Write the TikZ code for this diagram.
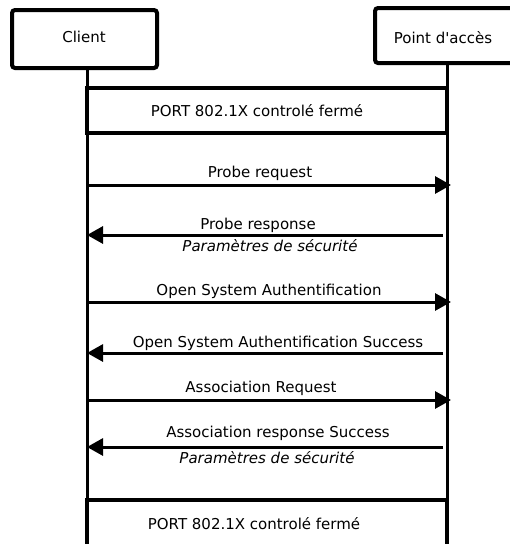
\documentclass[tikz,border=0pt]{standalone}
\usepackage{fontspec}
\setmainfont{DejaVu Sans}
\usetikzlibrary{arrows.meta}
\begin{document}
\begin{tikzpicture}[x=1pt,y=-1pt,
  actor/.style={draw, line width=4pt, rounded corners=3pt, inner sep=0pt},
  life/.style={line width=3pt},
  bar/.style={draw, line width=3.5pt, inner sep=0pt, minimum width=360pt},
  msg/.style={line width=3pt, -{Triangle[length=16pt,width=17pt]}},
  lbl/.style={anchor=base, inner sep=0pt, font=\fontsize{15}{18}\selectfont},
  sec/.style={anchor=base, inner sep=0pt, font=\fontsize{15}{18}\selectfont\itshape}]
\useasboundingbox (0,0) rectangle (510,544);
\clip (0,0) rectangle (510,544);
% actors
\node[actor, minimum width=145pt, minimum height=58pt] (client) at (84.5,39) {};
\node[actor, minimum width=145pt, minimum height=55pt] (ap) at (447.5,35.5) {};
\node[lbl] (clienttxt) at (84,42) {Client};
\node[lbl] (aptxt) at (443,43) {Point d\textquotesingle accès};
% lifelines
\coordinate (c0) at (87,68);
\coordinate (c1) at (87,550);
\coordinate (a0) at (447,63);
\coordinate (a1) at (447,550);
\draw[life] (c0) -- (c1);
\draw[life] (a0) -- (a1);
% port boxes
\node[bar, minimum height=45pt] (port1) at (267,110.5) {};
\node[lbl] (port1txt) at (257,116) {PORT 802.1X controlé fermé};
\node[bar, minimum height=60pt] (port2) at (267,530) {};
\node[lbl] (port2txt) at (254,529) {PORT 802.1X controlé fermé};
% message end points
\coordinate (m1s) at (87,185);  \coordinate (m1e) at (451,185);
\coordinate (m2s) at (443,235); \coordinate (m2e) at (87,235);
\coordinate (m3s) at (87,302);  \coordinate (m3e) at (451,302);
\coordinate (m4s) at (443,353); \coordinate (m4e) at (87,353);
\coordinate (m5s) at (87,400);  \coordinate (m5e) at (451,400);
\coordinate (m6s) at (443,447); \coordinate (m6e) at (87,447);
\draw[msg] (m1s) -- (m1e);
\draw[msg] (m2s) -- (m2e);
\draw[msg] (m3s) -- (m3e);
\draw[msg] (m4s) -- (m4e);
\draw[msg] (m5s) -- (m5e);
\draw[msg] (m6s) -- (m6e);
% labels
\node[lbl] (l1) at (260,177) {Probe request};
\node[lbl] (l2) at (258,229) {Probe response};
\node[sec] (l2b) at (270,251) {Paramètres de sécurité};
\node[lbl] (l3) at (269,295) {Open System Authentification};
\node[lbl] (l4) at (278,347) {Open System Authentification Success};
\node[lbl] (l5) at (261,392) {Association Request};
\node[lbl] (l6) at (278,437) {Association response Success};
\node[sec] (l6b) at (267,463) {Paramètres de sécurité};
\end{tikzpicture}
\end{document}
